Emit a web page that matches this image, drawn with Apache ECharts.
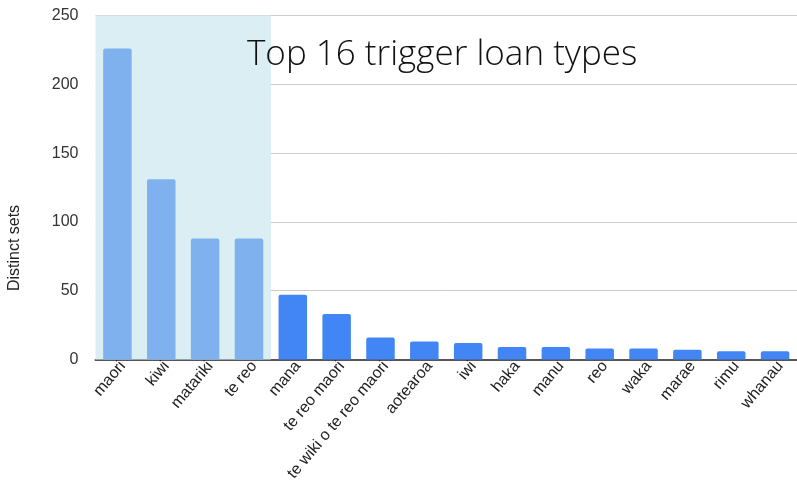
<!DOCTYPE html>
<html>
<head>
<meta charset="utf-8">
<script src="https://cdn.jsdelivr.net/npm/echarts@6/dist/echarts.min.js"></script>
<style>
  html, body { margin: 0; padding: 0; background: #fff; }
  #chart { width: 797px; height: 491px; }
</style>
</head>
<body>
<div id="chart"></div>
<script>
// Loan words that triggered a set, ranked by number of distinct sets
const categories = ['maori', 'kiwi', 'matariki', 'te reo', 'mana', 'te reo maori',
  'te wiki o te reo maori', 'aotearoa', 'iwi', 'haka', 'manu', 'reo', 'waka',
  'marae', 'rimu', 'whanau'];
const distinctSets = [226, 131, 88, 88, 47, 33, 16, 13, 12, 9, 9, 8, 8, 7, 6, 6];
// The first few words are shaded as the highlighted group
const highlightedCount = 4;
const yTicks = { min: 0, max: 250, interval: 50 };

const chart = echarts.init(document.getElementById('chart'), null, { renderer: 'canvas' });

const barData = distinctSets.map((v, i) => ({
  value: v,
  itemStyle: { color: i < highlightedCount ? '#7fb1ee' : '#4285f4' }
}));

chart.setOption({
  animation: false,
  backgroundColor: '#ffffff',
  title: {
    text: 'Top 16 trigger loan types',
    left: 242,
    top: 33,
    textStyle: {
      fontFamily: 'Open Sans',
      fontWeight: 300,
      fontSize: 35,
      color: '#111'
    }
  },
  grid: { left: 95.5, top: 15.5, width: 704, bottom: 131.5, containLabel: false },
  xAxis: {
    type: 'category',
    data: categories,
    axisLine: { show: true, lineStyle: { color: '#555', width: 2 } },
    axisTick: { show: false },
    axisLabel: {
      rotate: 50,
      interval: 0,
      margin: 10,
      padding: [10, -8, 0, 0],
      fontFamily: 'Liberation Sans',
      fontSize: 16,
      color: '#222'
    }
  },
  yAxis: {
    type: 'value',
    min: yTicks.min,
    max: yTicks.max,
    interval: yTicks.interval,
    axisLine: { show: false },
    axisTick: { show: false },
    splitLine: { lineStyle: { color: '#cccccc', width: 1 } },
    axisLabel: {
      margin: 17,
      fontFamily: 'Liberation Sans',
      fontSize: 16,
      color: '#333'
    }
  },
  graphic: [{
    type: 'text',
    x: 15,
    y: 248,
    rotation: Math.PI / 2,
    style: {
      text: 'Distinct sets',
      fontFamily: 'Liberation Sans',
      fontSize: 16,
      fill: '#222',
      align: 'center',
      verticalAlign: 'middle'
    }
  }],
  series: [{
    type: 'bar',
    data: barData,
    barCategoryGap: '35%',
    itemStyle: { borderRadius: [2, 2, 0, 0] },
    markArea: {
      silent: true,
      itemStyle: { color: '#dbeef3' },
      data: [[{ xAxis: categories[0] }, { xAxis: categories[highlightedCount - 1] }]]
    }
  }]
});
</script>
</body>
</html>
